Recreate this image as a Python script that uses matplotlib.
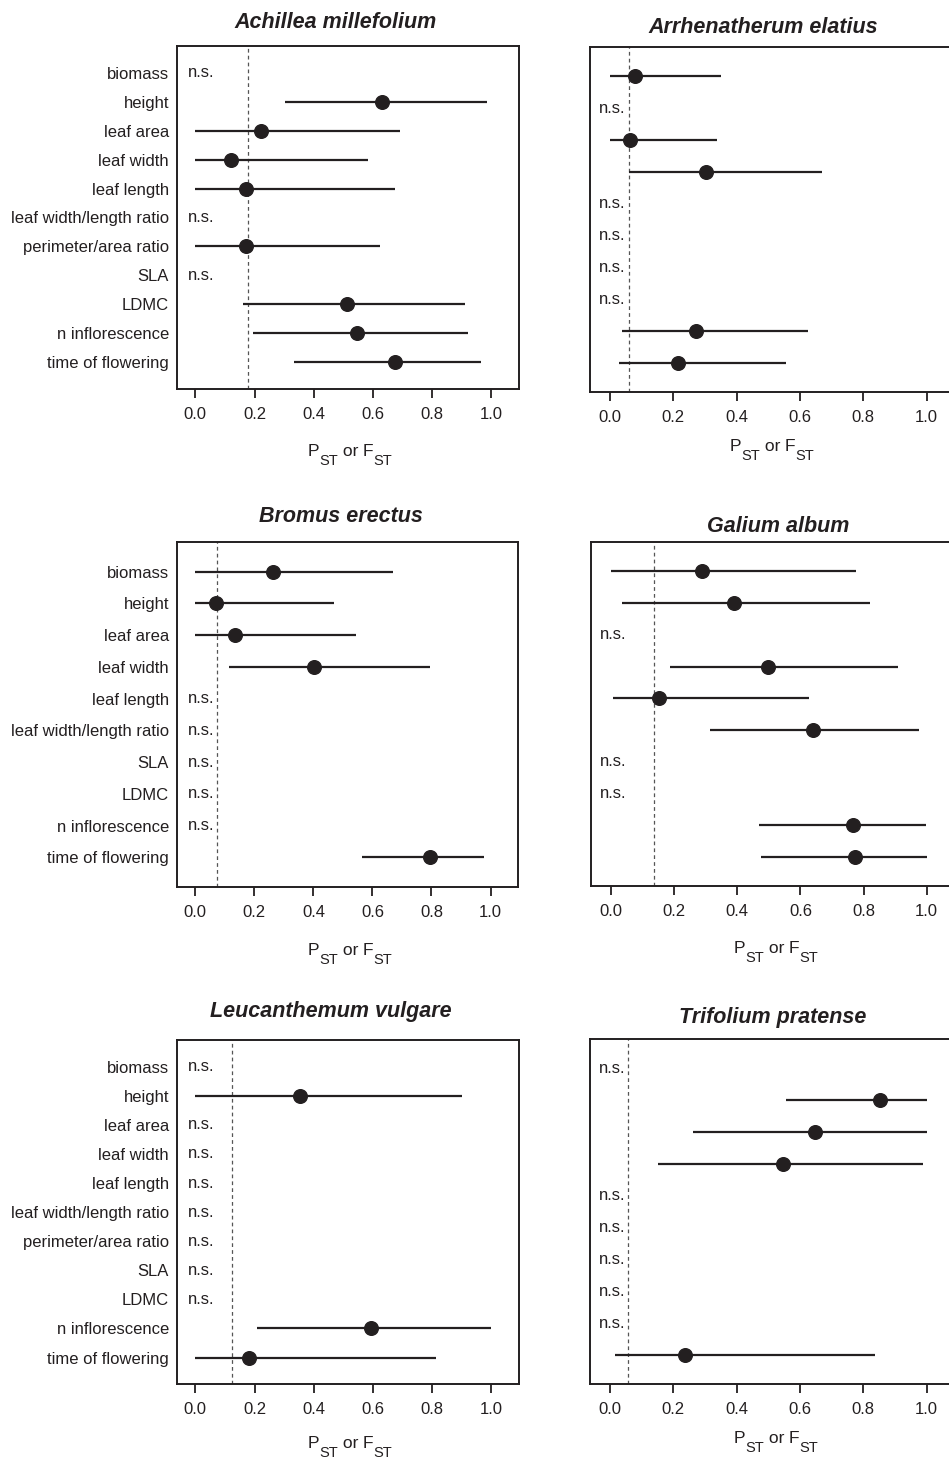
import numpy as np
import matplotlib
matplotlib.use("Agg")
import matplotlib.pyplot as plt

plt.rcParams['font.family'] = ['Liberation Sans', 'DejaVu Sans']

nan = np.nan

traits_forb = ["biomass", "height", "leaf area", "leaf width", "leaf length",
               "leaf width/length ratio", "perimeter/area ratio", "SLA", "LDMC",
               "n inflorescence", "time of flowering"]
traits_grass = ["biomass", "height", "leaf area", "leaf width", "leaf length",
                "leaf width/length ratio", "SLA", "LDMC",
                "n inflorescence", "time of flowering"]

species = ["Achillea millefolium", "Arrhenatherum elatius", "Bromus erectus",
           "Galium album", "Leucanthemum vulgare", "Trifolium pratense"]

# Achillea millefolium
ach_est = [nan, 0.632, 0.222, 0.121, 0.170, nan, 0.172, nan, 0.514, 0.546, 0.674]
ach_lo = [nan, 0.303, 0.0, 0.0, 0.0, nan, 0.0, nan, 0.162, 0.196, 0.333]
ach_hi = [nan, 0.986, 0.692, 0.583, 0.675, nan, 0.624, nan, 0.913, 0.922, 0.967]
ach_fst = 0.177

# Arrhenatherum elatius
arr_est = [0.078, nan, 0.062, 0.303, nan, nan, nan, nan, 0.271, 0.215]
arr_lo = [0.0, nan, 0.0, 0.060, nan, nan, nan, nan, 0.039, 0.028]
arr_hi = [0.352, nan, 0.337, 0.668, nan, nan, nan, nan, 0.626, 0.556]
arr_fst = 0.060

# Bromus erectus
bro_est = [0.264, 0.070, 0.135, 0.402, nan, nan, nan, nan, nan, 0.795]
bro_lo = [0.0, 0.0, 0.0, 0.115, nan, nan, nan, nan, nan, 0.563]
bro_hi = [0.670, 0.470, 0.544, 0.795, nan, nan, nan, nan, nan, 0.977]
bro_fst = 0.074

# Galium album
gal_est = [0.287, 0.391, nan, 0.498, 0.152, 0.641, nan, nan, 0.766, 0.772]
gal_lo = [0.0, 0.035, nan, 0.186, 0.007, 0.313, nan, nan, 0.469, 0.476]
gal_hi = [0.777, 0.820, nan, 0.910, 0.627, 0.974, nan, nan, 0.998, 1.0]
gal_fst = 0.136

# Leucanthemum vulgare
leu_est = [nan, 0.354, nan, nan, nan, nan, nan, nan, nan, 0.593, 0.180]
leu_lo = [nan, 0.0, nan, nan, nan, nan, nan, nan, nan, 0.207, 0.0]
leu_hi = [nan, 0.900, nan, nan, nan, nan, nan, nan, nan, 0.999, 0.814]
leu_fst = 0.123

# Trifolium pratense
tri_est = [nan, 0.851, 0.648, 0.546, nan, nan, nan, nan, nan, 0.237]
tri_lo = [nan, 0.557, 0.263, 0.152, nan, nan, nan, nan, nan, 0.017]
tri_hi = [nan, 1.0, 1.0, 0.987, nan, nan, nan, nan, nan, 0.838]
tri_fst = 0.058

xticks = [0.0, 0.2, 0.4, 0.6, 0.8, 1.0]
xticklabels = ["0.0", "0.2", "0.4", "0.6", "0.8", "1.0"]

W, H = 949, 1462
fig = plt.figure(figsize=(W / 100, H / 100), dpi=100)
renderer = fig.canvas.get_renderer()
INK = '#231f20'
FS = 12

# layout (pixels): left, right, top, bottom
boxes = [(176.7, 519.0, 46, 389), (590, 956.5, 47, 392),
         (176.7, 518.3, 542.3, 886.7), (591, 956.4, 542.3, 886),
         (176.7, 519.0, 1040, 1384.3), (590, 956.5, 1039.3, 1384.3)]
titles_pos = [(336, 28.3), (763, 32.7), (341, 522.3), (778, 531.7), (331, 1017.3), (773, 1023.3)]
xlab_pos = [(350, 456), (772, 451), (350, 955), (776, 953), (350, 1448), (776, 1443)]

panels = [
    (traits_forb, ach_est, ach_lo, ach_hi, ach_fst, True),
    (traits_grass, arr_est, arr_lo, arr_hi, arr_fst, False),
    (traits_grass, bro_est, bro_lo, bro_hi, bro_fst, True),
    (traits_grass, gal_est, gal_lo, gal_hi, gal_fst, False),
    (traits_forb, leu_est, leu_lo, leu_hi, leu_fst, True),
    (traits_grass, tri_est, tri_lo, tri_hi, tri_fst, False),
]


def piece_label(cx, base_y, parts):
    """Draw text pieces (text, size, drop_px) side by side, centred at cx."""
    objs = []
    widths = []
    for txt, size, drop in parts:
        t = fig.text(0, 1 - (base_y + drop) / H, txt, ha='left', va='baseline',
                     fontsize=size, color=INK)
        w = t.get_window_extent(renderer).width
        objs.append(t)
        widths.append(w)
    total = sum(widths)
    x = cx - total / 2
    for t, w in zip(objs, widths):
        t.set_x(x / W)
        x += w


for i, (traits, est, lo, hi, fst, show_labels) in enumerate(panels):
    l, r, t, b = boxes[i]
    ax = fig.add_axes([l / W, 1 - b / H, (r - l) / W, (b - t) / H])
    n = len(est)
    ypos = np.arange(1, n + 1)
    est_a = np.array(est, dtype=float)
    lo_a = np.array(lo, dtype=float)
    hi_a = np.array(hi, dtype=float)
    sig = ~np.isnan(est_a)
    ax.axvline(fst, color='#555555', lw=0.9, ls=(0, (3, 2.5)), zorder=1)
    ax.hlines(ypos[sig], lo_a[sig], hi_a[sig], color=INK, lw=1.6, zorder=2)
    ax.plot(est_a[sig], ypos[sig], 'o', color=INK, ms=9.8, zorder=3)
    ns_x = -0.026 if show_labels else -0.036
    for y in ypos[~sig]:
        ax.text(ns_x, y, 'n.s.', ha='left', va='center', fontsize=FS, color=INK)
    ax.set_xlim(-0.063, 1.094)
    ax.set_ylim(n + 0.92, 0.08)
    ax.set_xticks(xticks)
    ax.set_xticklabels(xticklabels)
    ax.tick_params(axis='x', direction='out', length=6.5, width=1.3, pad=6.5,
                   labelsize=FS, colors=INK)
    if show_labels:
        ax.set_yticks(ypos)
        ax.set_yticklabels(traits)
        ax.tick_params(axis='y', length=0, pad=5.5, labelsize=FS, colors=INK)
    else:
        ax.set_yticks([])
    for s in ax.spines.values():
        s.set_linewidth(1.4)
        s.set_color(INK)
    tx, ty = titles_pos[i]
    fig.text(tx / W, 1 - ty / H, species[i], ha='center', va='baseline',
             fontsize=15.5, fontweight='bold', fontstyle='italic', color=INK)
    lx, ly = xlab_pos[i]
    piece_label(lx, ly, [("P", 12.5, 0), ("ST", 10.5, 9), (" or ", 12.5, 0),
                         ("F", 12.5, 0), ("ST", 10.5, 9)])

fig.savefig('out.png', dpi=100)
